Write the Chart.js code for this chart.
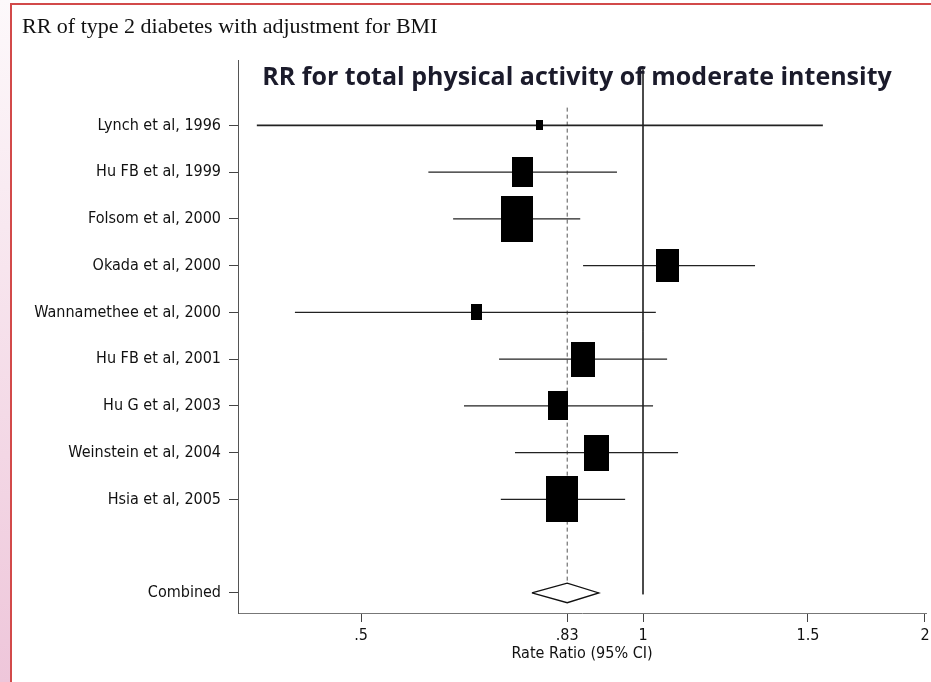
<!DOCTYPE html>
<html>
<head>
<meta charset="utf-8">
<script src="https://cdn.jsdelivr.net/npm/chart.js@4.4.1/dist/chart.umd.min.js"></script>
<style>
  html, body { margin: 0; padding: 0; background: #fff; }
  #strip { position: absolute; left: 0; top: 0; width: 10px; height: 682px;
           background: linear-gradient(to bottom, #fdf9fb, #eec6da); }
  #box { position: absolute; left: 10px; top: 3px; width: 921px; height: 679px;
         border-top: 2px solid #d24a4a; border-left: 2px solid #d24a4a;
         box-sizing: border-box; background: #fff; }
  #wrap { position: absolute; left: 0; top: 0; width: 931px; height: 682px; }
</style>
</head>
<body>
<div id="strip"></div>
<div id="box"></div>
<div id="wrap"><canvas id="forest" width="931" height="682"></canvas></div>
<script>
const studies = ['Lynch et al, 1996', 'Hu FB et al, 1999', 'Folsom et al, 2000', 'Okada et al, 2000',
	'Wannamethee et al, 2000', 'Hu FB et al, 2001', 'Hu G et al, 2003', 'Weinstein et al, 2004', 'Hsia et al, 2005'];
const rateRatio = [0.775, 0.744, 0.734, 1.062, 0.664, 0.863, 0.811, 0.893, 0.820];
const ciLow = [0.387, 0.590, 0.627, 0.863, 0.425, 0.702, 0.644, 0.730, 0.705];
const ciHigh = [1.556, 0.938, 0.857, 1.317, 1.032, 1.061, 1.025, 1.090, 0.957];
const weights = [1.0, 9.1, 20.8, 11.3, 2.4, 11.8, 8.7, 12.9, 22.0];

const combinedLabel = 'Combined';
const combinedRR = 0.83;
const combinedLow = 0.761;
const combinedHigh = 0.897;

const xTickValues = [0.5, 0.83, 1, 1.5, 2];
const xTickLabels = ['.5', '.83', '1', '1.5', '2'];

const combinedRow = studies.length + 1;
const yLabels = {};
studies.forEach((s, i) => { yLabels[i] = s; });
yLabels[combinedRow] = combinedLabel;

// black boxes, area proportional to the study weight
const boxImages = weights.map(w => {
	const c = document.createElement('canvas');
	const bw = Math.round(Math.sqrt(w * 69 / 1.44));
	const bh = Math.round(bw * 1.44);
	c.width = bw;
	c.height = bh;
	const g = c.getContext('2d');
	g.fillStyle = '#000';
	g.fillRect(0, 0, bw, bh);
	return c;
});

const ciLines = [];
studies.forEach((s, i) => {
	ciLines.push({ x: ciLow[i], y: i }, { x: ciHigh[i], y: i }, { x: null, y: null });
});

const dh = 0.21;
const diamond = [
	{ x: combinedLow, y: combinedRow },
	{ x: combinedRR, y: combinedRow - dh },
	{ x: combinedHigh, y: combinedRow },
	{ x: combinedRR, y: combinedRow + dh },
	{ x: combinedLow, y: combinedRow }
];

const subtitlePlugin = {
	id: 'subtitleText',
	afterDraw(chart) {
		const ctx = chart.ctx;
		ctx.save();
		ctx.font = 'bold 25px "Open Sans", Lato, sans-serif';
		ctx.fillStyle = '#1b1b2b';
		ctx.textAlign = 'center';
		ctx.textBaseline = 'middle';
		ctx.fillText('RR for total physical activity of moderate intensity', 577, 78);
		ctx.restore();
	}
};

const labelFont = '"Liberation Sans Narrow", "DejaVu Sans Condensed", Arial, sans-serif';

new Chart(document.getElementById('forest'), {
	type: 'scatter',
	data: {
		datasets: [
			{
				label: 'studies',
				data: rateRatio.map((v, i) => ({ x: v, y: i })),
				pointStyle: ctx => boxImages[ctx.dataIndex],
				pointRadius: 1,
				order: 0
			},
			{
				label: 'combined',
				data: diamond,
				showLine: true,
				borderColor: '#111',
				borderWidth: 1.3,
				backgroundColor: '#fff',
				fill: 'shape',
				pointRadius: 0,
				order: 1
			},
			{
				label: 'ci',
				data: ciLines,
				showLine: true,
				spanGaps: false,
				borderColor: '#222',
				borderWidth: 1.1,
				segment: { borderWidth: ctx => (ctx.p0DataIndex === 0 ? 1.8 : 1.1) },
				pointRadius: 0,
				order: 2
			},
			{
				label: 'combined line',
				data: [{ x: combinedRR, y: -0.38 }, { x: combinedRR, y: combinedRow + 0.2 }],
				showLine: true,
				borderColor: '#555',
				borderWidth: 1,
				borderDash: [4, 3],
				pointRadius: 0,
				order: 3
			},
			{
				label: 'no effect',
				data: [{ x: 1, y: -1.2 }, { x: 1, y: combinedRow + 0.03 }],
				showLine: true,
				borderColor: '#333',
				borderWidth: 1,
				pointRadius: 0,
				order: 4
			}
		]
	},
	options: {
		responsive: false,
		animation: false,
		events: [],
		layout: { padding: { left: 22, right: 0, top: 0, bottom: 20 } },
		plugins: {
			legend: { display: false },
			tooltip: { enabled: false },
			title: {
				display: true,
				text: 'RR of type 2 diabetes with adjustment for BMI',
				align: 'start',
				color: '#111',
				font: { family: '"Liberation Serif", "Times New Roman", serif', size: 22, weight: 'normal' },
				padding: { top: 14, bottom: 20 }
			}
		},
		scales: {
			x: {
				type: 'logarithmic',
				min: 0.3695,
				max: 2.005,
				afterBuildTicks: scale => { scale.ticks = xTickValues.map(v => ({ value: v })); },
				ticks: {
					callback: (value, index) => xTickLabels[index],
					color: '#111',
					font: { family: labelFont, size: 16, lineHeight: 1.625 },
					padding: 1,
					maxRotation: 0,
					autoSkip: false
				},
				grid: { drawOnChartArea: false, tickLength: 9, color: '#444' },
				border: { color: '#777', dash: [2, 1] },
				title: {
					display: true,
					text: 'Rate Ratio (95% CI)',
					color: '#111',
					font: { family: labelFont, size: 16, lineHeight: 1 },
					padding: { top: -4, bottom: 0 }
				}
			},
			y: {
				type: 'linear',
				reverse: true,
				min: -1.39,
				max: 10.43,
				afterFit: scale => { scale.width = 216; },
				afterBuildTicks: scale => {
					scale.ticks = Object.keys(yLabels).map(k => ({ value: Number(k) }));
				},
				ticks: {
					callback: value => yLabels[value],
					color: '#111',
					font: { family: labelFont, size: 16 },
					padding: 8,
					autoSkip: false
				},
				grid: { drawOnChartArea: false, tickLength: 9, color: '#444' },
				border: { color: '#555' }
			}
		}
	},
	plugins: [subtitlePlugin]
});
</script>
</body>
</html>
